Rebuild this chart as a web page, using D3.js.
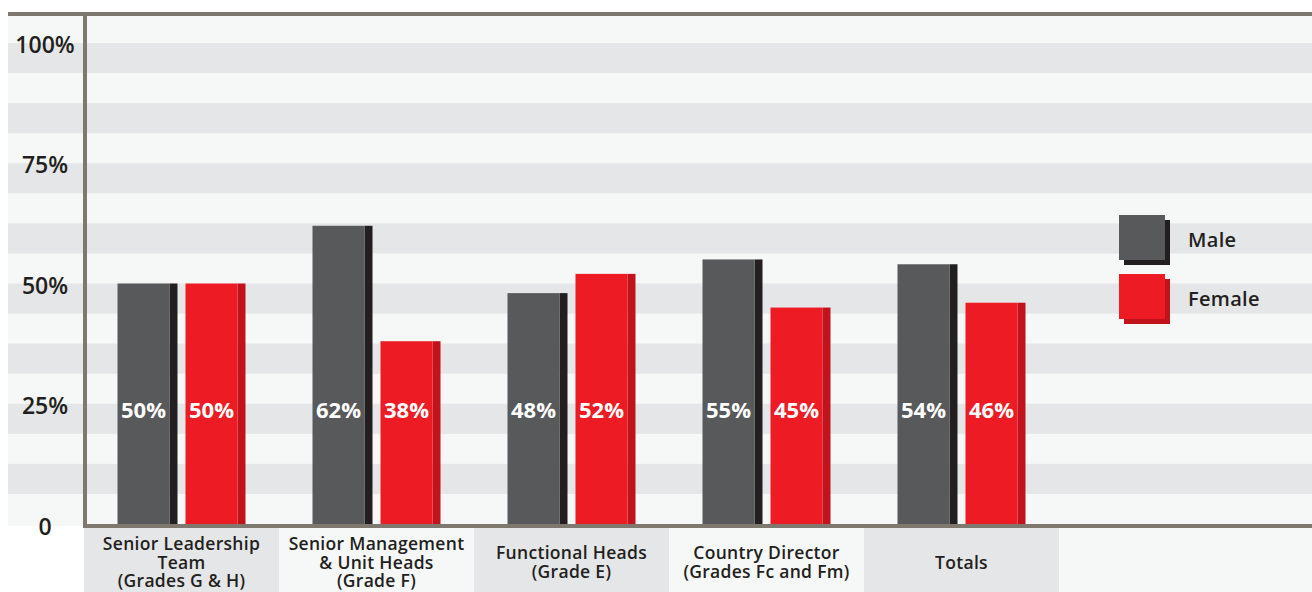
<!DOCTYPE html>
<html>
<head>
<meta charset="utf-8">
<script src="https://cdn.jsdelivr.net/npm/d3@7"></script>
<style>
  html, body { margin: 0; padding: 0; background: #ffffff; }
  svg { display: block; font-family: "Open Sans", Lato, sans-serif; }
</style>
</head>
<body>
<svg id="chart" width="1312" height="592"></svg>
<script>
// Staff gender split by grade band
const categories = [
  ["Senior Leadership", "Team", "(Grades G & H)"],
  ["Senior Management", "& Unit Heads", "(Grade F)"],
  ["Functional Heads", "(Grade E)"],
  ["Country Director", "(Grades Fc and Fm)"],
  ["Totals"]
];
const maleValues   = [50, 62, 48, 55, 54];
const femaleValues = [50, 38, 52, 45, 46];
const seriesNames  = ["Male", "Female"];
const yTicks       = [0, 25, 50, 75, 100];

const colors = {
  male:   { face: "#58595b", side: "#231f20" },
  female: { face: "#ed1c24", side: "#c1131b" },
  axis: "#7f786e",
  stripeDark: "#e5e6e7",
  stripeLight: "#f6f7f7",
  text: "#231f20"
};

const svg = d3.select("#chart");
const plot = { left: 84, right: 1312, top: 14, bottom: 526 };

const y = d3.scaleLinear().domain([0, 100]).range([524, 43]);
const x = d3.scaleBand()
  .domain(d3.range(categories.length))
  .range([plot.left, plot.left + 195 * categories.length])
  .paddingInner(0).paddingOuter(0);

// Alternating horizontal background bands (every 6.25%)
const bandSteps = d3.range(0, 100, 6.25);
svg.append("rect")
  .attr("x", 8).attr("y", plot.top)
  .attr("width", plot.right - 8).attr("height", 526 - plot.top)
  .attr("fill", colors.stripeLight);
svg.append("g").selectAll("rect")
  .data(bandSteps.filter((d, i) => i % 2 === 1))
  .join("rect")
  .attr("x", 8)
  .attr("y", d => y(d + 6.25))
  .attr("width", plot.right - 8)
  .attr("height", d => y(d) - y(d + 6.25))
  .attr("fill", colors.stripeDark);

// Category label boxes beneath the axis
const labelTop = 528;
svg.append("rect")
  .attr("x", plot.left).attr("y", labelTop)
  .attr("width", plot.right - plot.left).attr("height", 592 - labelTop)
  .attr("fill", colors.stripeLight);
svg.append("g").selectAll("rect")
  .data(categories.map((c, i) => i))
  .join("rect")
  .attr("x", i => x(i))
  .attr("y", labelTop)
  .attr("width", x.bandwidth())
  .attr("height", 592 - labelTop)
  .attr("fill", i => i % 2 === 0 ? colors.stripeDark : colors.stripeLight);

const catLabels = svg.append("g")
  .attr("font-size", 17.5).attr("font-weight", 600).attr("fill", colors.text)
  .attr("letter-spacing", 0.3)
  .attr("text-anchor", "middle");
categories.forEach((lines, i) => {
  const lh = 18.5;
  const cy = 562.5;
  const t = catLabels.append("text")
    .attr("x", x(i) + x.bandwidth() / 2);
  lines.forEach((line, j) => {
    t.append("tspan")
      .attr("x", x(i) + x.bandwidth() / 2)
      .attr("y", cy + (j - (lines.length - 1) / 2) * lh)
      .attr("dy", "0.35em")
      .text(line);
  });
});

// Bars: each bar is a front face plus a darker side strip
const barW = 52, sideW = 8, gap = 8;
const groupW = 2 * (barW + sideW) + gap;
const series = [
  { key: "male", values: maleValues, offset: 0 },
  { key: "female", values: femaleValues, offset: barW + sideW + gap }
];
series.forEach(s => {
  const g = svg.append("g");
  s.values.forEach((v, i) => {
    const x0 = x(i) + (x.bandwidth() - groupW) / 2 + s.offset;
    g.append("rect")
      .attr("x", x0 + barW).attr("y", y(v))
      .attr("width", sideW).attr("height", y(0) - y(v))
      .attr("fill", colors[s.key].side);
    g.append("rect")
      .attr("x", x0).attr("y", y(v))
      .attr("width", barW).attr("height", y(0) - y(v))
      .attr("fill", colors[s.key].face);
    g.append("text")
      .attr("x", x0 + barW / 2)
      .attr("y", 410)
      .attr("dy", "0.35em")
      .attr("text-anchor", "middle")
      .attr("font-size", 22).attr("font-weight", 700)
      .attr("fill", "#ffffff")
      .text(v + "%");
  });
});

// Axis frame lines
svg.append("line")
  .attr("x1", 8).attr("x2", plot.right)
  .attr("y1", 14).attr("y2", 14)
  .attr("stroke", colors.axis).attr("stroke-width", 4);
svg.append("line")
  .attr("x1", 85).attr("x2", 85)
  .attr("y1", 12).attr("y2", 528)
  .attr("stroke", colors.axis).attr("stroke-width", 4);
svg.append("line")
  .attr("x1", 83).attr("x2", plot.right)
  .attr("y1", 526).attr("y2", 526)
  .attr("stroke", colors.axis).attr("stroke-width", 4);

// Y tick labels
svg.append("g").selectAll("text")
  .data(yTicks)
  .join("text")
  .attr("x", 45)
  .attr("y", d => d === 0 ? 527 : y(d) + 2)
  .attr("dy", "0.35em")
  .attr("text-anchor", "middle")
  .attr("font-size", 23).attr("font-weight", 600)
  .attr("fill", colors.text)
  .text(d => d === 0 ? "0" : d + "%");

// Legend
const legend = svg.append("g");
seriesNames.forEach((name, i) => {
  const key = name.toLowerCase();
  const ly = 215 + i * 59;
  legend.append("rect")
    .attr("x", 1124).attr("y", ly + 5)
    .attr("width", 46).attr("height", 45)
    .attr("fill", colors[key].side);
  legend.append("rect")
    .attr("x", 1119).attr("y", ly)
    .attr("width", 46).attr("height", 45)
    .attr("fill", colors[key].face);
  legend.append("text")
    .attr("x", 1188).attr("y", ly + 25)
    .attr("dy", "0.35em")
    .attr("font-size", 20).attr("font-weight", 600)
    .attr("letter-spacing", 0.3)
    .attr("fill", colors.text)
    .text(name);
});
</script>
</body>
</html>
